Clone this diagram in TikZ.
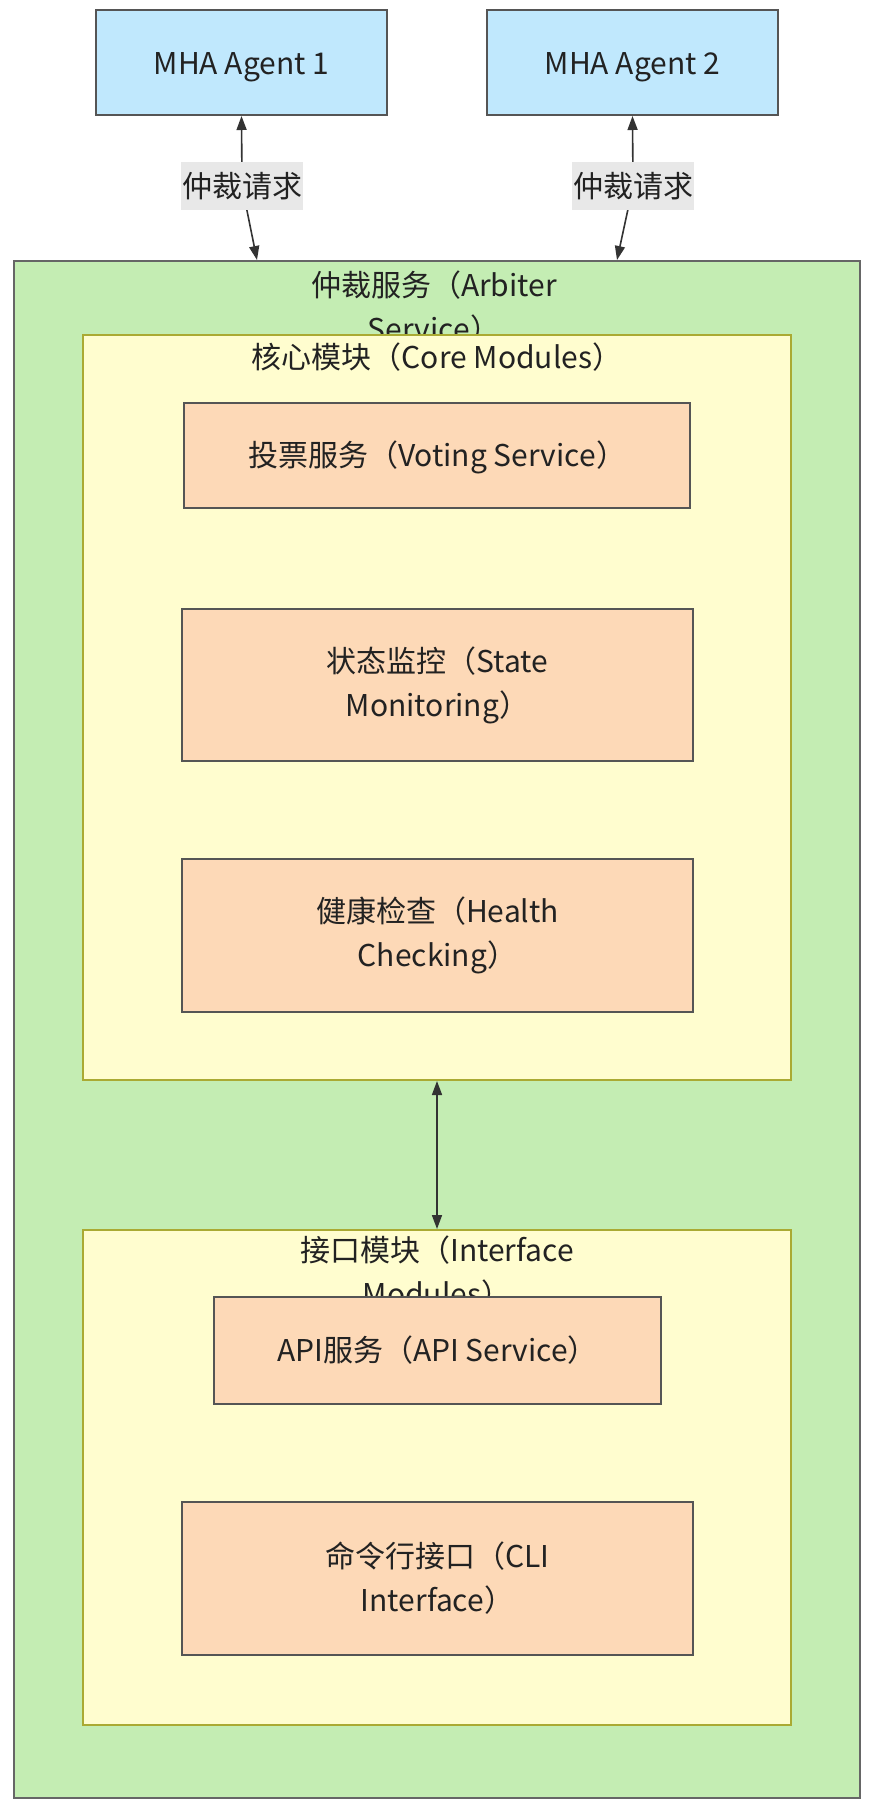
\documentclass[tikz,border=0pt]{standalone}
\usepackage{fontspec}
\setmainfont{Noto Sans CJK SC}
\usetikzlibrary{arrows.meta,calc}
\definecolor{agentfill}{HTML}{C0E8FD}
\definecolor{agentline}{HTML}{555555}
\definecolor{greenfill}{HTML}{C4EDB3}
\definecolor{greenline}{HTML}{666666}
\definecolor{yellowfill}{HTML}{FFFDCF}
\definecolor{yellowline}{HTML}{AAAA33}
\definecolor{peachfill}{HTML}{FDD9B7}
\definecolor{peachline}{HTML}{555555}
\definecolor{labelfill}{HTML}{E8E8E8}
\definecolor{txt}{HTML}{222222}
\definecolor{arrowcol}{HTML}{333333}
\newcommand{\oneline}[2][4pt]{\raisebox{0pt}[26pt][#1]{#2}}
\tikzset{
  base/.style={rectangle, inner sep=0pt, text=txt, align=center,
    font=\fontsize{30}{44}\selectfont},
  agent/.style={base, fill=agentfill, draw=agentline, line width=2pt},
  outerbox/.style={base, fill=greenfill, draw=greenline, line width=2pt},
  modbox/.style={base, fill=yellowfill, draw=yellowline, line width=2pt},
  svcbox/.style={base, fill=peachfill, draw=peachline, line width=2pt},
  title/.style={base},
  elabel/.style={base, fill=labelfill, inner sep=1pt, minimum height=48pt},
  conn/.style={draw=arrowcol, line width=1.6pt,
    {Triangle[length=14pt,width=10pt]}-{Triangle[length=14pt,width=10pt]}}
}
\begin{document}
\begin{tikzpicture}[x=1pt,y=-1pt]
\useasboundingbox[fill=white] (0,0) rectangle (874,1808);
% agents
\node[agent, minimum width=291pt, minimum height=105pt] (a1) at (241.5,62.5) {\oneline[2pt]{MHA Agent 1}};
\node[agent, minimum width=291pt, minimum height=105pt] (a2) at (632.5,62.5) {\oneline[2pt]{MHA Agent 2}};
% outer service
\node[outerbox, minimum width=846pt, minimum height=1537pt] (outer) at (437,1029.5) {};
\node[title] (outert) at (434,307) {仲裁服务（Arbiter\\Service）};
% core modules
\node[modbox, minimum width=708pt, minimum height=745pt] (core) at (437,707.5) {};
\node[title] (coret) at (437,357) {\oneline{核心模块（Core Modules）}};
\node[svcbox, minimum width=506pt, minimum height=105pt] (vote) at (437,455.5) {\oneline{投票服务（Voting Service）}};
\node[svcbox, minimum width=511pt, minimum height=152pt] (state) at (437.5,685) {状态监控（State\\Monitoring）};
\node[svcbox, minimum width=511pt, minimum height=153pt] (health) at (437.5,935.5) {健康检查（Health\\Checking）};
% interface modules
\node[modbox, minimum width=708pt, minimum height=495pt] (iface) at (437,1477.5) {};
\node[title] (ifacet) at (437,1272) {接口模块（Interface\\Modules）};
\node[svcbox, minimum width=447pt, minimum height=107pt] (api) at (437.5,1350.5) {\oneline{API服务（API Service）}};
\node[svcbox, minimum width=511pt, minimum height=153pt] (cli) at (437.5,1578.5) {命令行接口（CLI\\Interface）};
% connectors
\coordinate (o1) at ([xshift=244pt]outer.north west);
\coordinate (o2) at ([xshift=604pt]outer.north west);
\coordinate (l1c) at (242,186);
\coordinate (l2c) at (633,186);
\draw[conn] (a1.south) -- (l1c) -- (o1);
\draw[conn] (a2.south) -- (l2c) -- (o2);
\node[elabel] (l1) at (l1c) {\oneline{仲裁请求}};
\node[elabel] (l2) at (l2c) {\oneline{仲裁请求}};
\draw[conn] (core.south) -- (iface.north);
\end{tikzpicture}
\end{document}
